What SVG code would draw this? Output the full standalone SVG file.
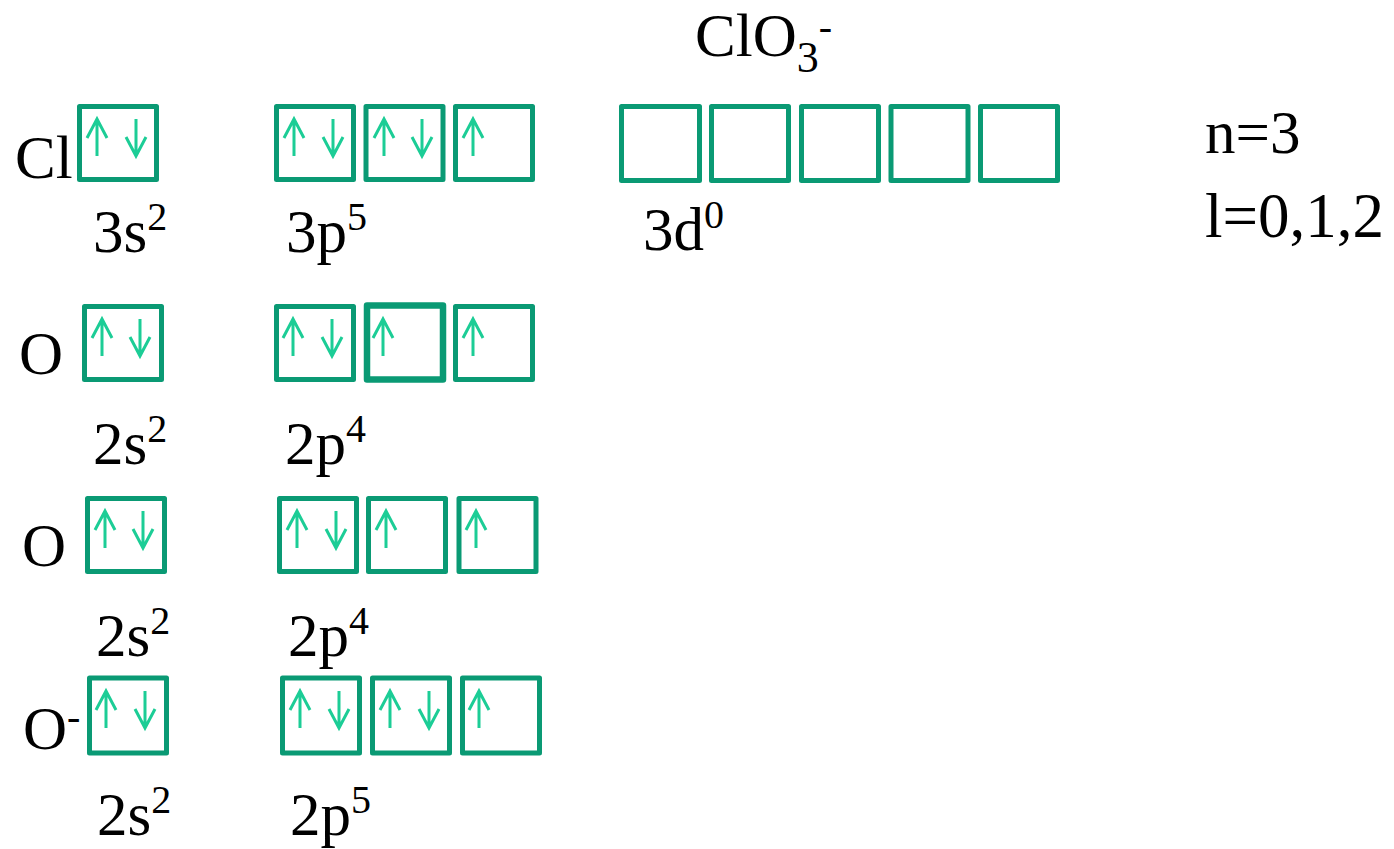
<svg xmlns="http://www.w3.org/2000/svg" width="1394" height="849" viewBox="0 0 1394 849">
<style>
.t{font-family:'Liberation Serif','Times New Roman','DejaVu Serif',serif;font-size:61px;fill:#000}
.sup{font-size:40px}
.box{fill:none;stroke:#0a9a74;stroke-width:5;stroke-linejoin:round}
.thick{stroke-width:6.5}
.e{fill:none;stroke:#1ccd96;stroke-width:3;stroke-linecap:butt;stroke-linejoin:miter}
</style>
<defs>
<path id="up" class="e" d="M0,37 V0 M-10,19 L0,0 L10,19"/>
<path id="dn" class="e" d="M0,0 V37 M-10,18 L0,37 L10,18"/>
</defs>
<rect width="1394" height="849" fill="#fff"/>
<g id="title" class="t"><text x="695" y="56">ClO<tspan font-size="44" dy="16">3</tspan><tspan class="sup" dy="-32">-</tspan></text></g>

<g id="cl">
<g class="t">
<text x="15" y="178">Cl</text>
<text x="93" y="252">3s<tspan class="sup" dy="-22">2</tspan></text>
<text x="286" y="252">3p<tspan class="sup" dy="-22">5</tspan></text>
<text x="643" y="250">3d<tspan class="sup" dy="-22">0</tspan></text>
</g>
<rect class="box" x="79.5" y="106.5" width="77" height="73"/>
<use href="#up" x="97" y="119"/><use href="#dn" x="136" y="119"/>
<rect class="box" x="276.5" y="106.5" width="77" height="73"/>
<rect class="box" x="366" y="106.5" width="77" height="73"/>
<rect class="box" x="455.5" y="106.5" width="77" height="73"/>
<use href="#up" x="294" y="119"/><use href="#dn" x="333" y="119"/>
<use href="#up" x="384" y="119"/><use href="#dn" x="422" y="119"/>
<use href="#up" x="473" y="119"/>
<rect class="box" x="621.5" y="106.5" width="78" height="74"/>
<rect class="box" x="711.5" y="106.5" width="77" height="74"/>
<rect class="box" x="801.5" y="106.5" width="77" height="74"/>
<rect class="box" x="891" y="106.5" width="77" height="74"/>
<rect class="box" x="980.5" y="106.5" width="77" height="74"/>
</g>

<g id="qn" class="t">
<text x="1205" y="153">n=3</text>
<text x="1205" y="237" font-size="63">l=0,1,2</text>
</g>

<g id="o1">
<g class="t">
<text x="19" y="374">O</text>
<text x="93" y="464">2s<tspan class="sup" dy="-22">2</tspan></text>
<text x="285" y="464">2p<tspan class="sup" dy="-22">4</tspan></text>
</g>
<rect class="box" x="84.5" y="306.5" width="77" height="73"/>
<use href="#up" x="102" y="319"/><use href="#dn" x="140" y="319"/>
<rect class="box" x="276.5" y="306.5" width="77" height="73"/>
<rect class="box thick" x="367" y="305.5" width="76" height="74"/>
<rect class="box" x="455.5" y="306.5" width="77" height="73"/>
<use href="#up" x="293" y="319"/><use href="#dn" x="332" y="319"/>
<use href="#up" x="383" y="319"/>
<use href="#up" x="473" y="319"/>
</g>

<g id="o2">
<g class="t">
<text x="22" y="566">O</text>
<text x="96" y="656">2s<tspan class="sup" dy="-22">2</tspan></text>
<text x="288" y="656">2p<tspan class="sup" dy="-22">4</tspan></text>
</g>
<rect class="box" x="87.5" y="498.5" width="77" height="73"/>
<use href="#up" x="105" y="511"/><use href="#dn" x="143" y="511"/>
<rect class="box" x="279.5" y="498.5" width="77" height="73"/>
<rect class="box" x="368.5" y="498.5" width="77" height="73"/>
<rect class="box" x="459" y="498.5" width="77" height="73"/>
<use href="#up" x="297" y="511"/><use href="#dn" x="336" y="511"/>
<use href="#up" x="386" y="511"/>
<use href="#up" x="476" y="511"/>
</g>

<g id="o3">
<g class="t">
<text x="23" y="749">O<tspan class="sup" dy="-19">-</tspan></text>
<text x="97" y="835">2s<tspan class="sup" dy="-22">2</tspan></text>
<text x="290" y="835">2p<tspan class="sup" dy="-22">5</tspan></text>
</g>
<rect class="box" x="89.5" y="678" width="77" height="75"/>
<use href="#up" x="106" y="691"/><use href="#dn" x="145" y="691"/>
<rect class="box" x="282.5" y="678" width="77" height="75"/>
<rect class="box" x="372.5" y="678" width="77" height="75"/>
<rect class="box" x="462.5" y="678" width="77" height="75"/>
<use href="#up" x="300" y="691"/><use href="#dn" x="339" y="691"/>
<use href="#up" x="390" y="691"/><use href="#dn" x="429" y="691"/>
<use href="#up" x="479" y="691"/>
</g>
</svg>
